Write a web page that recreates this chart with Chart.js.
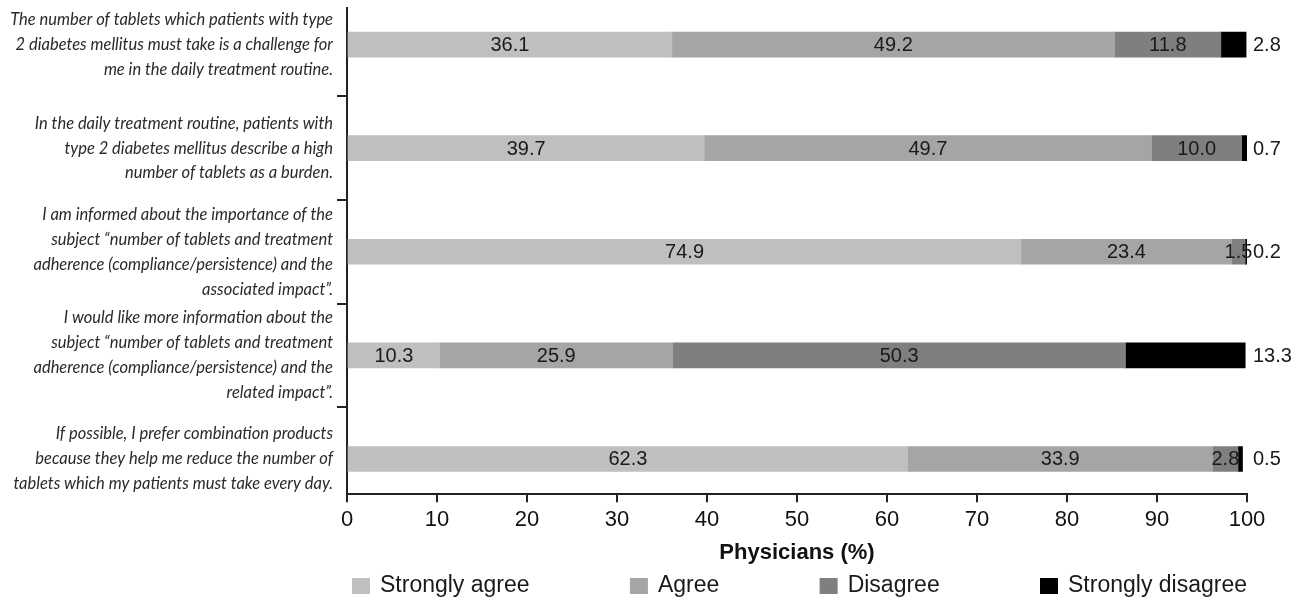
<!DOCTYPE html>
<html>
<head>
<meta charset="utf-8">
<title>Tablet burden survey</title>
<script src="https://cdn.jsdelivr.net/npm/chart.js@4"></script>
<style>
  body { margin: 0; background: #fff; }
  #wrap { width: 1301px; height: 600px; position: relative; }
</style>
</head>
<body>
<div id="wrap"><canvas id="myChart"></canvas></div>
<script>
const questions = [
  ["The number of tablets which patients with type", "2 diabetes mellitus must take is a challenge for", "me in the daily treatment routine."],
  ["In the daily treatment routine, patients with", "type 2 diabetes mellitus describe a high", "number of tablets as a burden."],
  ["I am informed about the importance of the", "subject \u201cnumber of tablets and treatment", "adherence (compliance/persistence) and the", "associated impact\u201d."],
  ["I would like more information about the", "subject \u201cnumber of tablets and treatment", "adherence (compliance/persistence) and the", "related impact\u201d."],
  ["If possible, I prefer combination products", "because they help me reduce the number of", "tablets which my patients must take every day."]
];

const stronglyAgree = [36.1, 39.7, 74.9, 10.3, 62.3];
const agree = [49.2, 49.7, 23.4, 25.9, 33.9];
const disagree = [11.8, 10.0, 1.5, 50.3, 2.8];
const stronglyDisagree = [2.8, 0.7, 0.2, 13.3, 0.5];

const xTicks = [0, 10, 20, 30, 40, 50, 60, 70, 80, 90, 100];

const textFont = '"Liberation Sans", Arial, sans-serif';
const labelFont = 'Lato, "Open Sans", sans-serif';
const ink = "#1a1a1a";

// one point per question, y is the question index
function toPoints(values) {
  return values.map((v, i) => ({ x: v, y: i }));
}

// value labels: centred in each segment, last series to the right of the bar
const barLabels = {
  id: "barLabels",
  afterDatasetsDraw(chart) {
    const ctx = chart.ctx;
    const last = chart.data.datasets.length - 1;
    ctx.save();
    ctx.font = "20px " + textFont;
    ctx.fillStyle = ink;
    ctx.textBaseline = "middle";
    chart.data.datasets.forEach((ds, di) => {
      chart.getDatasetMeta(di).data.forEach((bar, i) => {
        const text = ds.data[i].x.toFixed(1);
        if (di === last) {
          ctx.textAlign = "left";
          ctx.fillText(text, chart.chartArea.right + 6, bar.y + 1);
        } else {
          ctx.textAlign = "center";
          ctx.fillText(text, (bar.base + bar.x) / 2, bar.y + 1);
        }
      });
    });
    ctx.restore();
  }
};

// legend row spread across the width of the plot
const spreadLegend = {
  id: "spreadLegend",
  afterDraw(chart) {
    const ctx = chart.ctx;
    const area = chart.chartArea;
    const box = 18, gap = 10;
    ctx.save();
    ctx.font = "23px " + textFont;
    const items = chart.data.datasets.map((ds) => ({
      text: ds.label,
      color: ds.backgroundColor,
      w: box + gap + ctx.measureText(ds.label).width
    }));
    const start = area.left + 5;
    const total = items.reduce((s, it) => s + it.w, 0);
    const space = (area.right - start - total) / (items.length - 1);
    const y = chart.height - 14;
    let x = start;
    ctx.textBaseline = "middle";
    ctx.textAlign = "left";
    items.forEach((it) => {
      ctx.fillStyle = it.color;
      ctx.fillRect(x, y - 8, box, 16);
      ctx.fillStyle = ink;
      ctx.fillText(it.text, x + box + gap, y);
      x += it.w + space;
    });
    ctx.restore();
  }
};

const ctx = document.getElementById("myChart").getContext("2d");

const myChart = new Chart(ctx, {
  type: "bar",
  data: {
    datasets: [
      { label: "Strongly agree", data: toPoints(stronglyAgree), backgroundColor: "#bfbfbf" },
      { label: "Agree", data: toPoints(agree), backgroundColor: "#a5a5a5" },
      { label: "Disagree", data: toPoints(disagree), backgroundColor: "#7f7f7f" },
      { label: "Strongly disagree", data: toPoints(stronglyDisagree), backgroundColor: "#000000" }
    ]
  },
  plugins: [barLabels, spreadLegend],
  options: {
    indexAxis: "y",
    responsive: true,
    maintainAspectRatio: false,
    animation: false,
    events: [],
    barThickness: 25,
    layout: { padding: { top: 8, right: 54, bottom: 29, left: 0 } },
    plugins: {
      legend: { display: false },
      tooltip: { enabled: false }
    },
    scales: {
      x: {
        type: "linear",
        stacked: true,
        min: 0,
        max: 100,
        afterBuildTicks: (axis) => {
          axis.ticks = xTicks.map((v) => ({ value: v }));
        },
        border: { display: true, color: "#222", width: 2 },
        grid: { drawOnChartArea: false, drawTicks: true, tickLength: 8, color: "#222", lineWidth: 2 },
        ticks: { color: "#111", padding: 5, font: { family: textFont, size: 22 } },
        title: {
          display: true,
          text: "Physicians (%)",
          color: "#111",
          padding: { top: 1, bottom: 5 },
          font: { family: textFont, size: 22, weight: "bold" }
        }
      },
      y: {
        type: "linear",
        stacked: true,
        reverse: true,
        offset: false,
        min: -0.353,
        max: 4.34,
        afterBuildTicks: (axis) => {
          axis.ticks = questions.map((q, i) => ({ value: i }));
        },
        afterFit: (axis) => {
          axis.width = 347;
          axis.paddingTop = 0;
          axis.paddingBottom = 0;
        },
        border: { display: true, color: "#222", width: 2 },
        grid: { offset: true, drawOnChartArea: false, drawTicks: true, tickLength: 10, color: "#222", lineWidth: 2 },
        ticks: {
          color: "#2a2a2a",
          padding: 4,
          autoSkip: false,
          callback: (value) => questions[value],
          font: { family: labelFont, size: 16.5, style: "italic", lineHeight: 1.515 }
        }
      }
    }
  }
});
</script>
</body>
</html>
